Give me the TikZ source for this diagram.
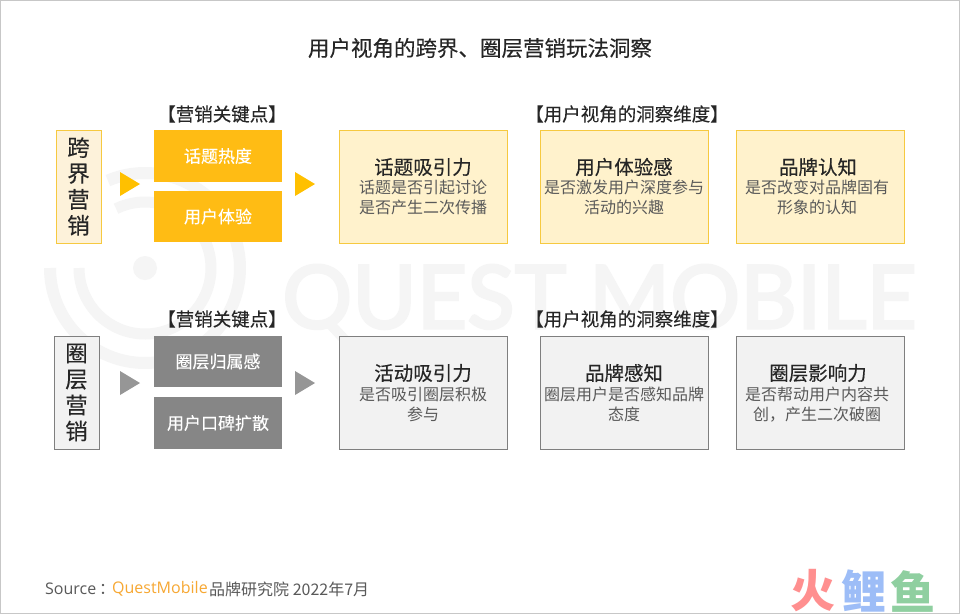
\documentclass[tikz,border=0pt]{standalone}
\usepackage{fontspec}
\setmainfont{Noto Sans CJK SC}
\newfontfamily\medfont[FakeBold=0.25]{Noto Sans CJK SC}
\newfontfamily\latinfont{Open Sans}
\newfontfamily\wmfont[FakeBold=3]{Lato}
\definecolor{ink}{HTML}{262626}
\definecolor{sub}{HTML}{595959}
\definecolor{ybox}{HTML}{FFBC14}
\definecolor{yfill}{HTML}{FFF2CC}
\definecolor{yside}{HTML}{FDF2DA}
\definecolor{yline}{HTML}{F6C940}
\definecolor{gbox}{HTML}{868686}
\definecolor{gfill}{HTML}{F2F2F2}
\definecolor{gline}{HTML}{7F7F7F}
\definecolor{ytri}{HTML}{FFC000}
\definecolor{gtri}{HTML}{969696}
\definecolor{wm}{HTML}{F5F5F5}
\definecolor{qmo}{HTML}{F7A833}
\definecolor{lgr}{HTML}{FF8F8F}
\definecolor{lgb}{HTML}{9DBDF7}
\definecolor{lgg}{HTML}{8FCFA0}
\tikzset{
 x=1pt,y=-1pt,
 txt/.style={inner sep=0pt,align=center,text=ink},
 side/.style={draw,line width=1pt,minimum width=45pt,minimum height=113pt,inner sep=0pt,align=center,text=ink,font=\medfont\fontsize{22.5}{26}\selectfont},
 key/.style={minimum width=128pt,minimum height=51.5pt,inner sep=0pt,text=white,font=\medfont\fontsize{17}{18}\selectfont},
 card/.style={draw,line width=.8pt,minimum width=168pt,minimum height=113pt,inner sep=0pt},
 head/.style={txt,font=\medfont\fontsize{18.5}{20}\selectfont},
 ctitle/.style={txt,font=\medfont\fontsize{19.5}{22}\selectfont},
 cbody/.style={txt,text=sub,font=\fontsize{16}{19.5}\selectfont},
 mark ring/.style={wm,line width=#1},
 logo/.style={inner sep=0pt,font=\bfseries\fontsize{45}{48}\selectfont},
}
\begin{document}
\begin{tikzpicture}
\useasboundingbox (0,0) rectangle (960,614);
\fill[white] (0,0) rectangle (960,614);
% watermark
\fill[wm] (145,268) circle (12);
\draw[mark ring=12pt] plot[domain=180:473,samples=80,smooth] ({145+95*cos(\x)},{268-95*sin(\x)});
\draw[mark ring=11pt] plot[domain=180:476,samples=60,smooth] ({145+66*cos(\x)},{268-66*sin(\x)});
\node[anchor=west,inner sep=0pt,text=wm,font=\wmfont\fontsize{87.5}{88}\selectfont] (wmtext) at (282,303) {QUEST MOBILE};
\draw[black!22,line width=1pt] (.5,.5) rectangle (959.5,613.5);
\node[txt,font=\medfont\fontsize{21.5}{26}\selectfont] (title) at (480,48) {用户视角的跨界、圈层营销玩法洞察};
% row 1
\node[head] (h1) at (222,114) {【营销关键点】};
\node[head] (h2) at (627,114) {【用户视角的洞察维度】};
\node[side,fill=yside,draw=yline] (s1) at (78.5,186.5) {跨\\界\\营\\销};
\node[key,fill=ybox] (k1) at (218,156) {话题热度};
\node[key,fill=ybox] (k2) at (218,216.5) {用户体验};
\fill[ytri] (120,172) -- (140,184) -- (120,196) -- cycle;
\fill[ytri] (295,172) -- (315,184) -- (295,196) -- cycle;
\node[card,fill=yfill,draw=yline] (c1) at (423,186.5) {};
\node[card,fill=yfill,draw=yline] (c2) at (624,186.5) {};
\node[card,fill=yfill,draw=yline] (c3) at (820,186.5) {};
\node[ctitle] (c1t) at (423,167) {话题吸引力};
\node[cbody] (c1b) at (423,197.5) {话题是否引起讨论\\是否产生二次传播};
\node[ctitle] (c2t) at (624,167) {用户体验感};
\node[cbody] (c2b) at (624,197.5) {是否激发用户深度参与\\活动的兴趣};
\node[ctitle] (c3t) at (818,167) {品牌认知};
\node[cbody] (c3b) at (817,197.5) {是否改变对品牌固有\\形象的认知};
% row 2
\node[head] (h3) at (222,319) {【营销关键点】};
\node[head] (h4) at (627,319) {【用户视角的洞察维度】};
\node[side,fill=gfill,draw=gline] (s2) at (76.5,392.5) {圈\\层\\营\\销};
\node[key,fill=gbox] (k3) at (218,361.5) {圈层归属感};
\node[key,fill=gbox] (k4) at (218,423) {用户口碑扩散};
\fill[gtri] (120,371) -- (140,383) -- (120,395) -- cycle;
\fill[gtri] (295,371) -- (315,383) -- (295,395) -- cycle;
\node[card,fill=gfill,draw=gline] (c4) at (423,392.5) {};
\node[card,fill=gfill,draw=gline] (c5) at (624,392.5) {};
\node[card,fill=gfill,draw=gline] (c6) at (820,392.5) {};
\node[ctitle] (c4t) at (423,373) {活动吸引力};
\node[cbody] (c4b) at (423,404.5) {是否吸引圈层积极\\参与};
\node[ctitle] (c5t) at (624,373) {品牌感知};
\node[cbody] (c5b) at (624,404.5) {圈层用户是否感知品牌\\态度};
\node[ctitle] (c6t) at (818,373) {圈层影响力};
\node[cbody] (c6b) at (817,404.5) {是否帮动用户内容共\\创，产生二次破圈};
% footer
\node[anchor=west,inner sep=0pt,text=sub,font=\latinfont\fontsize{16}{18}\selectfont] (src) at (45,589) {Source};
\node[anchor=west,inner sep=0pt,text=sub,font=\fontsize{16}{18}\selectfont] (colon) at (99,589) {：};
\node[anchor=west,inner sep=0pt,text=qmo,font=\latinfont\fontsize{16}{18}\selectfont] (qm) at (112,589) {QuestMobile};
\node[anchor=west,inner sep=0pt,text=sub,font=\fontsize{16}{18}\selectfont] (src2) at (209,589) {品牌研究院 2022年7月};
\node[logo,text=lgr] (l1) at (813,591) {火};
\node[logo,text=lgb] (l2) at (864,591) {鲤};
\node[logo,text=lgg] (l3) at (913,591) {鱼};
\end{tikzpicture}
\end{document}
